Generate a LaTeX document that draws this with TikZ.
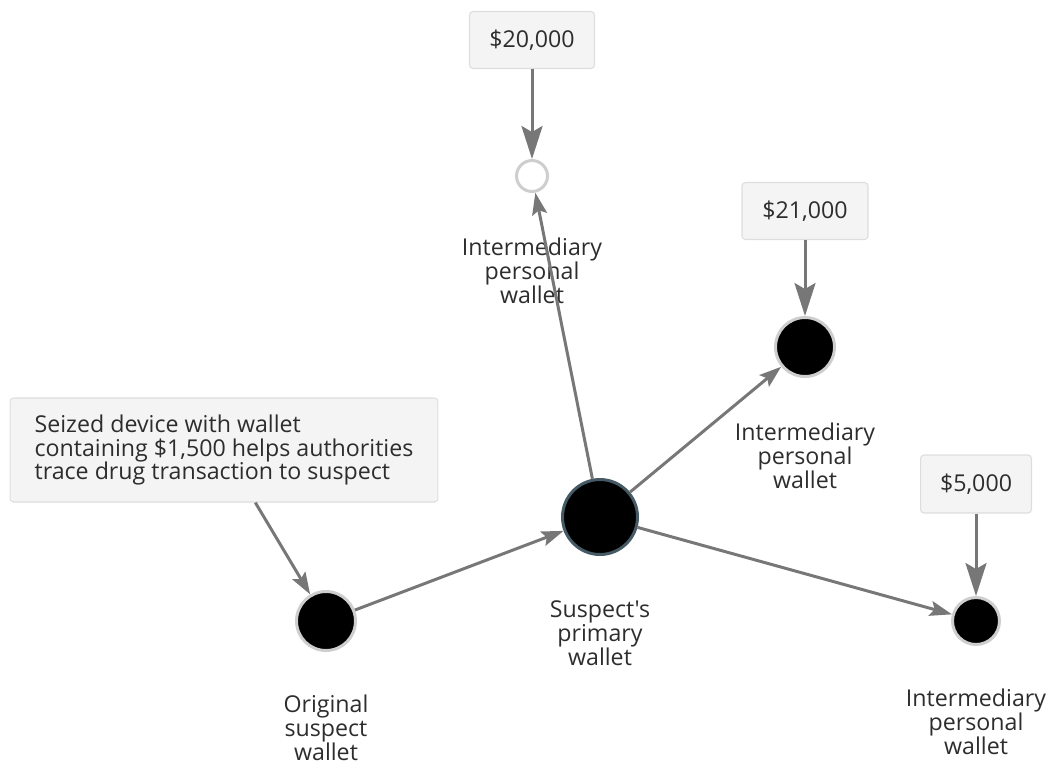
\documentclass[tikz,border=0pt]{standalone}
\usepackage{fontspec}
\setmainfont{Open Sans}[Ligatures=TeXOff]
\definecolor{EdgeGray}{RGB}{119,119,119}
\definecolor{TagFill}{RGB}{244,244,244}
\definecolor{TagBorder}{RGB}{221,221,221}
\definecolor{RingGray}{RGB}{206,206,206}
\definecolor{HubRing}{RGB}{69,90,100}
\definecolor{InkDark}{RGB}{45,45,45}
\usetikzlibrary{arrows.meta,positioning}

\begin{document}
\begin{tikzpicture}[x=0.02cm,y=-0.02cm,
  font=\fontsize{13.2}{13.6}\selectfont,text=InkDark,
  tag/.style={draw=TagBorder,fill=TagFill,rounded corners=2pt,line width=0.6pt,minimum height=1.14cm,inner sep=0pt},
  wallet/.style={circle,draw=RingGray,fill=black,line width=1.7pt,inner sep=0pt},
  caption/.style={align=center,inner sep=0pt},
  tagarrow/.style={draw=EdgeGray,line width=1.7pt,-{Stealth[length=0.66cm,width=0.42cm,inset=0.12cm]}},
  flowarrow/.style={draw=EdgeGray,line width=1.7pt,-{Stealth[length=0.44cm,width=0.3cm,inset=0.08cm]}}]
\useasboundingbox (0,0) rectangle (1050,765);
% wallets
\node[wallet,draw=HubRing,minimum size=1.5cm] (hub) at (600,517) {};
\node[wallet,minimum size=1.18cm] (orig) at (326,621) {};
\node[wallet,fill=white,minimum size=0.62cm] (w20) at (532,176) {};
\node[wallet,minimum size=1.18cm] (w21) at (805,347) {};
\node[wallet,minimum size=0.94cm] (w5) at (976,621) {};
% captions
\node[caption] (cap20) at (532,271) {Intermediary\\personal\\wallet};
\node[caption] (cap21) at (805,456) {Intermediary\\personal\\wallet};
\node[caption] (cap5) at (976,722) {Intermediary\\personal\\wallet};
\node[caption] (caphub) at (600,633) {Suspect's\\primary\\wallet};
\node[caption] (caporig) at (326,728) {Original\\suspect\\wallet};
% amount tags
\node[tag,minimum width=2.5cm] (tag20) at (532,40) {\$20,000};
\node[tag,minimum width=2.52cm] (tag21) at (805,211) {\$21,000};
\node[tag,minimum width=2.22cm,minimum height=1.16cm] (tag5) at (976,484) {\$5,000};
\node[tag,minimum width=8.56cm,minimum height=2.08cm,align=left] (seized) at (224,450)
  {Seized device with wallet\\containing \$1,500 helps authorities\\trace drug transaction to suspect};
% flows
\draw[tagarrow] (tag20) -- (w20);
\draw[tagarrow] (tag21) -- (w21);
\draw[tagarrow] (tag5) -- (w5);
\draw[flowarrow] (seized) -- (orig);
\draw[flowarrow] (orig) -- (hub);
\draw[flowarrow] (hub) -- (w20);
\draw[flowarrow] (hub) -- (w21);
\draw[flowarrow] (hub) -- (w5);
\end{tikzpicture}
\end{document}
